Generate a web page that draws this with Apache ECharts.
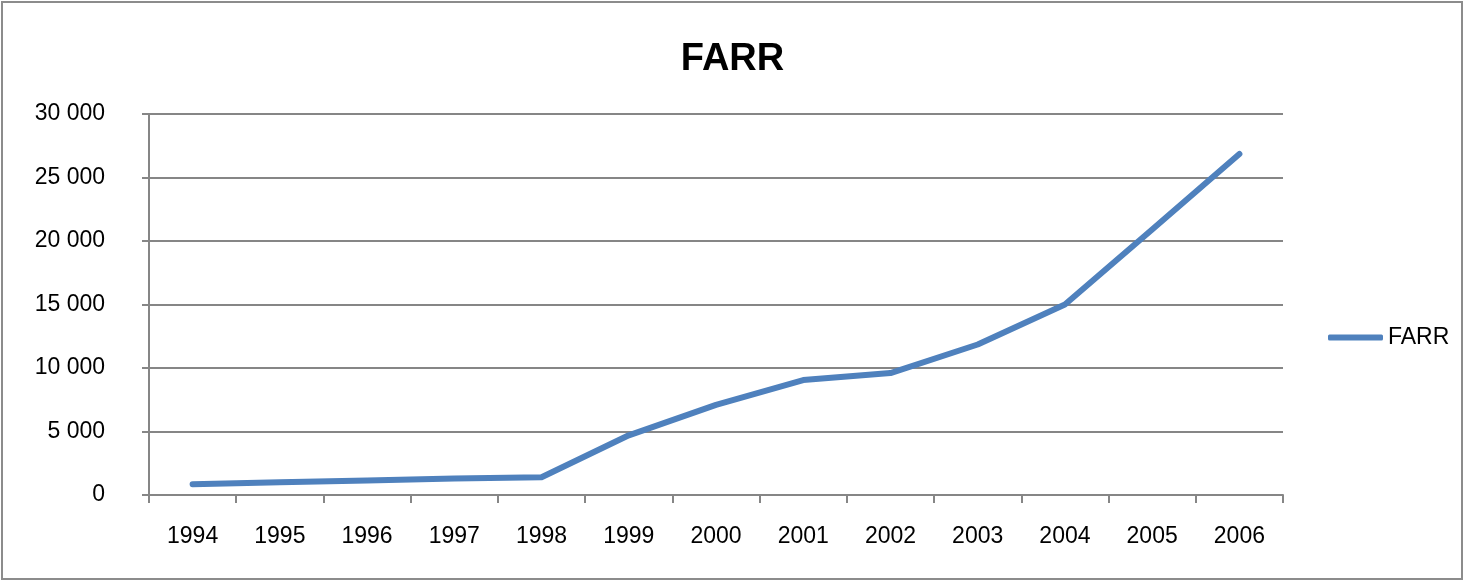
<!DOCTYPE html>
<html>
<head>
<meta charset="utf-8">
<script src="https://cdn.jsdelivr.net/npm/echarts@6/dist/echarts.min.js"></script>
<style>
  html, body { margin: 0; padding: 0; background: #fff; }
  #chart { width: 1465px; height: 582px; }
</style>
</head>
<body>
<div id="chart"></div>
<script>
  // 数据
  var years = ['1994', '1995', '1996', '1997', '1998', '1999', '2000', '2001', '2002', '2003', '2004', '2005', '2006'];
  var farr = [850, 1000, 1150, 1300, 1400, 4700, 7100, 9050, 9600, 11850, 15000, 20900, 26850];
  var seriesName = 'FARR';

  var font = 'Liberation Sans';
  var gray = '#868686';

  var myChart = echarts.init(document.getElementById('chart'));
  myChart.setOption({
    animation: false,
    title: {
      text: 'FARR',
      left: 'center',
      top: 36,
      textStyle: { fontFamily: font, fontSize: 38, fontWeight: 'bold', color: '#000' }
    },
    legend: {
      data: [seriesName],
      left: 1323,
      top: 321,
      icon: 'roundRect',
      itemWidth: 55,
      itemHeight: 6,
      textStyle: { fontFamily: font, fontSize: 23, color: '#000', padding: [0, 0, 0, 0] }
    },
    grid: { left: 149, right: 182, top: 114, bottom: 87 },
    xAxis: {
      type: 'category',
      data: years,
      boundaryGap: true,
      axisLine: { lineStyle: { color: gray, width: 2 } },
      axisTick: { show: true, length: 8, lineStyle: { color: gray, width: 2 } },
      axisLabel: { fontFamily: font, fontSize: 23, color: '#000', margin: 30 }
    },
    yAxis: {
      type: 'value',
      min: 0,
      max: 30000,
      interval: 5000,
      axisLine: { show: true, lineStyle: { color: gray, width: 2 } },
      axisTick: { show: true, length: 7, lineStyle: { color: gray, width: 2 } },
      splitLine: { lineStyle: { color: gray, width: 2 } },
      axisLabel: {
        fontFamily: font, fontSize: 23, color: '#000', margin: 44,
        formatter: function (v) { return String(v).replace(/\B(?=(\d{3})+(?!\d))/g, ' '); }
      }
    },
    series: [{
      name: seriesName,
      type: 'line',
      data: farr,
      symbol: 'none',
      color: '#4F81BD',
      lineStyle: { width: 6, color: '#4F81BD', cap: 'round', join: 'round' }
    }],
    graphic: [{
      type: 'rect',
      shape: { x: 2, y: 2, width: 1460, height: 577 },
      style: { fill: 'none', stroke: '#8c8c8c', lineWidth: 2 },
      silent: true
    }]
  });
</script>
</body>
</html>
